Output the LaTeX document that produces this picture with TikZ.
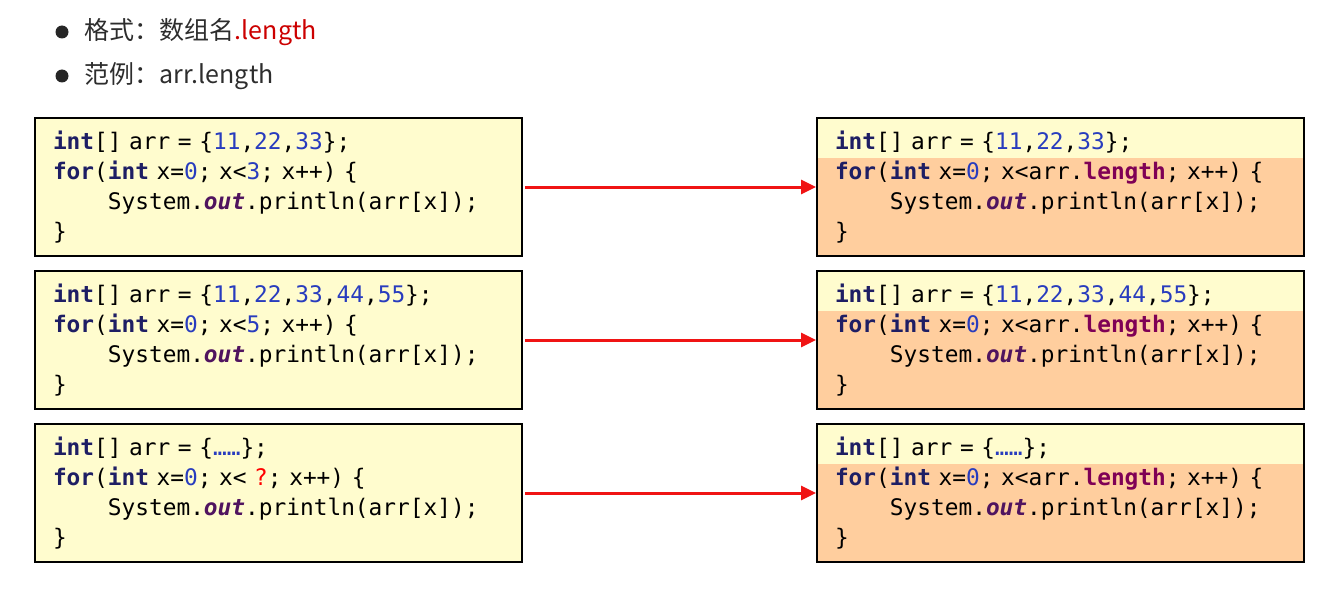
\documentclass[tikz,border=0pt]{standalone}
\usepackage{fontspec}
\setmainfont{Noto Sans CJK SC}
\newfontfamily\codefont{DejaVu Sans Mono}
\usetikzlibrary{arrows.meta, positioning}

\definecolor{codeyellow}{RGB}{255,252,206}
\definecolor{codepeach}{RGB}{255,206,158}
\definecolor{kwblue}{RGB}{30,30,100}
\definecolor{litblue}{RGB}{40,60,190}
\definecolor{fldpurple}{RGB}{80,20,95}
\definecolor{lenred}{RGB}{127,0,85}
\definecolor{textgray}{RGB}{45,45,45}
\definecolor{arrowred}{RGB}{240,20,20}

\newcommand{\kw}[1]{\textbf{\textcolor{kwblue}{#1}}}
\newcommand{\lit}[1]{\textcolor{litblue}{#1}}
\newcommand{\fld}[1]{\textbf{\textit{\textcolor{fldpurple}{#1}}}}
\newcommand{\lenkw}[1]{\textbf{\textcolor{lenred}{#1}}}
\newcommand{\indentcode}{\hphantom{xxxx}}
\newcommand{\codesize}{\codefont\fontsize{22.8}{30}\selectfont
  \fontdimen2\font=13.73pt \fontdimen3\font=0pt \fontdimen4\font=0pt}

\tikzset{
  codebox/.style={draw=black, line width=2pt, fill=codeyellow,
    minimum height=138pt, text width=451pt, inner xsep=18pt, inner ysep=0pt,
    align=left, font=\codesize},
  fixbox/.style={codebox, path picture={
    \fill[codepeach] ([yshift=-40pt]path picture bounding box.north west)
      rectangle (path picture bounding box.south east);}},
  bullet/.style={circle, fill=black!85, minimum size=13pt, inner sep=0pt},
  bullettext/.style={inner sep=0pt, text=textgray, font=\fontsize{25}{29}\selectfont},
  redarrow/.style={draw=arrowred, line width=3pt, -{Triangle[length=15pt,width=14pt]}}
}

\begin{document}
\begin{tikzpicture}[x=1pt, y=-1pt]
    \useasboundingbox (0,0) rectangle (1326,602);

    % Bullets
    \node[bullet] (dot1) at (62,32) {};
    \node[bullet] (dot2) at (62,76) {};
    \node[bullettext, right=16pt of dot1] (format) {格式：数组名\textcolor{red!80!black}{.length}};
    \node[bullettext, right=16pt of dot2] (sample) {范例：arr.length};

    % Code before
    \node[codebox] (before1) at (278.5,187) {%
        \kw{int}[] arr = \{\lit{11},\lit{22},\lit{33}\};\\
        \kw{for}(\kw{int} x=\lit{0}; x<\lit{3}; x++) \{\\
        \indentcode System.\fld{out}.println(arr[x]);\\
        \}};
    \node[codebox, below=13pt of before1] (before2) {%
        \kw{int}[] arr = \{\lit{11},\lit{22},\lit{33},\lit{44},\lit{55}\};\\
        \kw{for}(\kw{int} x=\lit{0}; x<\lit{5}; x++) \{\\
        \indentcode System.\fld{out}.println(arr[x]);\\
        \}};
    \node[codebox, below=13pt of before2] (before3) {%
        \kw{int}[] arr = \{\lit{……}\};\\
        \kw{for}(\kw{int} x=\lit{0}; x< \textcolor{red}{?}; x++) \{\\
        \indentcode System.\fld{out}.println(arr[x]);\\
        \}};

    % Code after
    \node[fixbox, right=293pt of before1] (after1) {%
        \kw{int}[] arr = \{\lit{11},\lit{22},\lit{33}\};\\
        \kw{for}(\kw{int} x=\lit{0}; x<arr.\lenkw{length}; x++) \{\\
        \indentcode System.\fld{out}.println(arr[x]);\\
        \}};
    \node[fixbox, right=293pt of before2] (after2) {%
        \kw{int}[] arr = \{\lit{11},\lit{22},\lit{33},\lit{44},\lit{55}\};\\
        \kw{for}(\kw{int} x=\lit{0}; x<arr.\lenkw{length}; x++) \{\\
        \indentcode System.\fld{out}.println(arr[x]);\\
        \}};
    \node[fixbox, right=293pt of before3] (after3) {%
        \kw{int}[] arr = \{\lit{……}\};\\
        \kw{for}(\kw{int} x=\lit{0}; x<arr.\lenkw{length}; x++) \{\\
        \indentcode System.\fld{out}.println(arr[x]);\\
        \}};

    % Arrows
    \draw[redarrow, shorten <=2pt] (before1) -- (after1);
    \draw[redarrow, shorten <=2pt] (before2) -- (after2);
    \draw[redarrow, shorten <=2pt] (before3) -- (after3);

\end{tikzpicture}
\end{document}
